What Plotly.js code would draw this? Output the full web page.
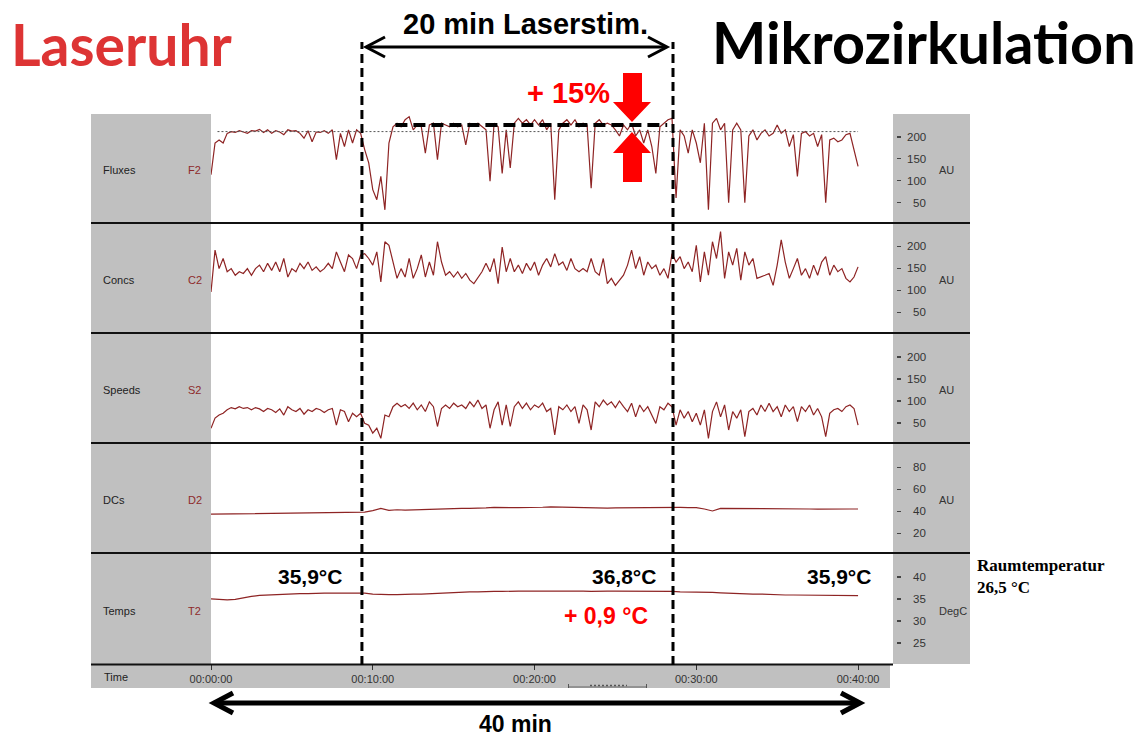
<!DOCTYPE html>
<html><head><meta charset="utf-8">
<script src="https://cdn.plot.ly/plotly-3.0.1.min.js"></script>
<style>html,body{margin:0;padding:0;background:#fff;}#chart{width:1139px;height:736px;}</style>
</head><body><div id="chart"></div>
<script>
// ---------- DATA ----------
// time in minutes; fast channels sampled every 0.25 min, slow every 0.5 min
const tFast = Array.from({length:161}, (_, i) => i * 0.25);
const tSlow = Array.from({length:81}, (_, i) => i * 0.5);

const fluxes = [
 114,186,193,186, 208,212,210,214, 211,208,214,213, 217,210,216,208,
 214,211,205,216, 213,214,208,197, 214,189,211,210, 214,208,216,148,
 208,178,216,186, 216,208,171,141, 80,57,110,34, 186,223,231,223,
 239,246,216,227, 223,163,227,231, 148,231,227,223, 231,223,227,182,
 231,227,231,223, 216,99,231,223, 117,216,129,231, 242,231,239,227,
 239,227,239,216, 231,57,216,231, 239,227,239,223, 231,227,83,231,
 239,227,231,227, 216,202,227,216, 231,202,216,186, 216,178,117,223,
 231,239,242,61, 216,202,163,216, 186,141,231,34, 231,242,216,231,
 50,216,231,216, 50,202,216,193, 208,216,202,208, 227,208,216,178,
 205,110,208,212, 202,208,178,205, 50,193,197,189, 193,205,208,171,
 133];

const concs = [
 96,191,149,172, 142,149,134,142, 138,149,134,149, 157,142,161,145,
 164,142,172,130, 149,142,161,149, 164,145,153,142, 149,161,149,187,
 164,142,180,172, 149,180,183,172, 157,187,119,210, 202,164,127,149,
 130,172,127,149, 180,130,164,134, 210,164,134,142, 130,142,127,138,
 123,115,130,142, 161,142,172,115, 198,142,172,142, 157,138,161,145,
 164,134,157,172, 153,183,157,164, 145,172,149,142, 149,142,172,142,
 134,172,115,127, 111,123,134,157, 191,149,176,134, 164,149,157,134,
 149,127,183,164, 176,149,164,142, 202,119,187,134, 210,172,233,127,
 187,157,195,123, 187,157,172,127, 130,134,138,111, 157,214,164,127,
 149,172,134,149, 127,157,134,164, 176,134,157,142, 149,127,119,130,
 153];

const speeds = [
 38,61,68,72, 80,85,82,87, 83,85,80,85, 82,76,83,80,
 74,82,68,87, 80,76,83,70, 80,76,83,80, 74,80,83,45,
 80,76,53,72, 64,72,49,45, 27,38,15,68, 64,87,95,87,
 92,83,95,80, 91,76,98,87, 42,83,91,83, 95,87,91,83,
 98,87,102,83, 91,38,80,98, 45,91,42,87, 98,83,95,80,
 91,85,95,76, 83,23,87,80, 91,76,87,49, 91,80,34,98,
 87,102,91,98, 85,100,87,76, 95,64,91,76, 87,68,49,87,
 80,95,87,45, 80,61,76,53, 72,45,80,15, 76,98,64,91,
 34,76,61,80, 19,76,83,68, 91,76,95,76, 87,64,91,76,
 87,53,87,76, 91,68,83,64, 19,72,80,83, 76,87,91,83,
 45];

const dcs = [
 37.3,37.4, 37.5,37.5, 37.5,37.6, 37.6,37.7, 37.8,37.6, 38.0,38.1, 38.3,38.0, 38.5,38.6,
 38.8,38.6, 39.0,39.2, 40.5,42.5, 40.8,41.3, 41.0,41.3, 41.5,41.8, 42.0,42.4, 42.3,42.5,
 42.6,42.6, 43.0,43.4, 43.0,43.2, 43.3,43.3, 43.5,43.6, 44.0,43.8, 43.6,43.2, 43.4,43.0,
 43.0,42.8, 43.0,43.1, 43.3,43.3, 43.4,43.4, 43.4,43.3, 43.4,43.3, 43.2,42.0, 40.2,42.6,
 42.6,42.5, 42.4,42.4, 42.3,42.3, 42.2,42.2, 42.2,42.1, 42.0,41.8, 42.0,42.0, 41.8,42.0,
 42.0];

const temps = [
 35.0,34.9, 34.8,34.9, 35.3,35.6, 35.8,35.9, 36.0,36.1, 36.1,36.2, 36.2,36.3, 36.3,36.3,
 36.3,36.3, 36.3,36.3, 36.1,36.0, 36.0,36.0, 36.1,36.1, 36.1,36.2, 36.3,36.3, 36.4,36.5,
 36.6,36.6, 36.7,36.7, 36.7,36.8, 36.8,36.8, 36.8,36.9, 36.9,36.9, 36.8,36.8, 36.8,36.7,
 36.8,36.8, 36.8,36.8, 36.8,36.7, 36.7,36.7, 36.7,36.7, 36.6,36.6, 36.6,36.5, 36.5,36.4,
 36.3,36.3, 36.2,36.1, 36.1,36.0, 36.0,35.9, 35.9,35.9, 35.8,35.8, 35.8,35.75, 35.75,35.75,
 35.75];

const channelNames = ['Fluxes','Concs','Speeds','DCs','Temps'];
const channelCodes = ['F2','C2','S2','D2','T2'];
const channelUnits = ['AU','AU','AU','AU','DegC'];
const auTicks = [50,100,150,200];
const dcTicks = [20,40,60,80];
const tempTicks = [25,30,35,40];
const timeTickVals = [0,10,20,30,40];
const timeTickText = ['00:00:00','00:10:00','00:20:00','00:30:00','00:40:00'];

const laserStart = 9.33, laserEnd = 28.56;   // minutes (dashed lines)
const refLevel = 212;       // thin dotted baseline in Fluxes
const laserLevel = 227;     // thick dashed level in Fluxes
const laserLevelStart = 11.4, laserLevelEnd = 28.2;
const refStart = 0.4, refEnd = 40;

// ---------- LAYOUT HELPERS ----------
const W = 1139, H = 736;
const X = p => p / W, Y = p => 1 - p / H;
const poly = pts => pts.map((p,i) => (i ? 'L' : 'M') + X(p[0]).toFixed(5) + ',' + Y(p[1]).toFixed(5)).join(' ') + ' Z';
const open = pts => pts.map((p,i) => (i ? 'L' : 'M') + X(p[0]).toFixed(5) + ',' + Y(p[1]).toFixed(5)).join(' ');

const panels = [
  {top:114, bottom:223, range:[4,252], ticks:auTicks, y:fluxes, t:tFast},
  {top:223, bottom:333, range:[3,252.5], ticks:auTicks, y:concs, t:tFast},
  {top:333, bottom:443, range:[4.5,254.5], ticks:auTicks, y:speeds, t:tFast},
  {top:443, bottom:553, range:[2,102], ticks:dcTicks, y:dcs, t:tSlow},
  {top:553, bottom:664, range:[20.2,45.45], ticks:tempTicks, y:temps, t:tSlow}
];

const traceColor = '#8e2424';
const sans = 'Liberation Sans, Arial, sans-serif';
const data = [];
const layout = {
  width: W, height: H,
  margin: {l:0, r:0, t:0, b:0},
  paper_bgcolor: '#ffffff', plot_bgcolor: '#ffffff',
  showlegend: false,
  xaxis: {
    domain: [X(211), X(893)], range: [0, 42.16], anchor: 'y5',
    tickvals: timeTickVals, ticktext: timeTickText,
    ticks: 'outside', ticklen: 5, tickwidth: 1, tickcolor: '#333',
    showgrid: false, zeroline: false, showline: false,
    tickfont: {family: sans, size: 11, color: '#333'}
  },
  shapes: [], annotations: []
};

panels.forEach((p, k) => {
  const ax = k === 0 ? 'yaxis' : 'yaxis' + (k + 1);
  const ref = k === 0 ? 'y' : 'y' + (k + 1);
  layout[ax] = {
    domain: [Y(p.bottom), Y(p.top)], range: p.range,
    anchor: 'free', position: X(896), side: 'right',
    ticks: 'outside', ticklen: 4, tickwidth: 1.3, tickcolor: '#444',
    tickvals: p.ticks, showticklabels: false,
    showgrid: false, zeroline: false, showline: false
  };
  data.push({x: p.t, y: p.y, xaxis: 'x', yaxis: ref, type: 'scatter', mode: 'lines',
             line: {color: traceColor, width: 1.2}, hoverinfo: 'skip'});
  p.ticks.forEach(v => layout.annotations.push({
    xref: 'paper', yref: ref, x: X(928), y: v, xanchor: 'right', yanchor: 'middle',
    text: String(v), showarrow: false, font: {family: sans, size: 11.5, color: '#333'}
  }));
  const mid = (p.top + p.bottom) / 2 + 2;
  layout.annotations.push({xref:'paper', yref:'paper', x: X(937), y: Y(mid), xanchor:'left', yanchor:'middle',
    text: channelUnits[k], showarrow:false, font:{family: sans, size: 11, color:'#333'}});
  layout.annotations.push({xref:'paper', yref:'paper', x: X(101), y: Y(mid), xanchor:'left', yanchor:'middle',
    text: channelNames[k], showarrow:false, font:{family: sans, size: 11, color:'#222'}});
  layout.annotations.push({xref:'paper', yref:'paper', x: X(186), y: Y(mid), xanchor:'left', yanchor:'middle',
    text: channelCodes[k], showarrow:false, font:{family: sans, size: 11, color:'#8e2a2a'}});
});

const gray = '#c0c0c0';
const rect = (x0,y0,x1,y1) => ({type:'rect', xref:'paper', yref:'paper', x0:X(x0), x1:X(x1), y0:Y(y1), y1:Y(y0),
  fillcolor: gray, line:{width:0}, layer:'below'});
layout.shapes.push(rect(91,114,211,688), rect(893,114,970,664), rect(211,664,890,688));

// separator lines
[223,333,443,553].forEach(yy => layout.shapes.push({type:'line', xref:'paper', yref:'paper',
  x0:X(91), x1:X(970), y0:Y(yy), y1:Y(yy), line:{color:'#111', width:2}}));
layout.shapes.push({type:'line', xref:'paper', yref:'paper', x0:X(91), x1:X(893), y0:Y(664.5), y1:Y(664.5), line:{color:'#111', width:2}});

// small scroll indicator in the time row
layout.shapes.push({type:'line', xref:'paper', yref:'paper', x0:X(568), x1:X(647), y0:Y(687), y1:Y(687), line:{color:'#666', width:1}});
layout.shapes.push({type:'line', xref:'paper', yref:'paper', x0:X(590), x1:X(627), y0:Y(685.5), y1:Y(685.5), line:{color:'#555', width:1.5, dash:'2px,2px'}});
layout.shapes.push({type:'line', xref:'paper', yref:'paper', x0:X(568.5), x1:X(568.5), y0:Y(684), y1:Y(688), line:{color:'#555', width:1}});
layout.shapes.push({type:'line', xref:'paper', yref:'paper', x0:X(646.5), x1:X(646.5), y0:Y(684), y1:Y(688), line:{color:'#555', width:1}});

// reference lines in Fluxes
layout.shapes.push({type:'line', xref:'x', yref:'y', x0:refStart, x1:refEnd, y0:refLevel, y1:refLevel,
  line:{color:'#555', width:1, dash:'2px,2px'}});
layout.shapes.push({type:'line', xref:'x', yref:'y', x0:laserLevelStart, x1:laserLevelEnd, y0:laserLevel, y1:laserLevel,
  line:{color:'#000', width:4, dash:'12px,6px'}});

// vertical dashed laser markers
[laserStart, laserEnd].forEach(t => layout.shapes.push({type:'line', xref:'x', yref:'paper',
  x0:t, x1:t, y0:Y(665), y1:Y(42), line:{color:'#000', width:3, dash:'9px,5px'}}));

// double arrows
layout.shapes.push({type:'line', xref:'paper', yref:'paper', x0:X(367), x1:X(666), y0:Y(47), y1:Y(47), line:{color:'#000', width:3}});
layout.shapes.push({type:'path', xref:'paper', yref:'paper', path: open([[385,37],[366,47],[385,57]]), line:{color:'#000', width:3}});
layout.shapes.push({type:'path', xref:'paper', yref:'paper', path: open([[648,37],[667,47],[648,57]]), line:{color:'#000', width:3}});

layout.shapes.push({type:'line', xref:'paper', yref:'paper', x0:X(215), x1:X(859), y0:Y(703), y1:Y(703), line:{color:'#000', width:5}});
layout.shapes.push({type:'path', xref:'paper', yref:'paper', path: open([[233,693],[214,703],[233,713]]), line:{color:'#000', width:5}});
layout.shapes.push({type:'path', xref:'paper', yref:'paper', path: open([[841,693],[860,703],[841,713]]), line:{color:'#000', width:5}});

// red arrows
layout.shapes.push({type:'path', xref:'paper', yref:'paper', fillcolor:'#ff0000', line:{width:0},
  path: poly([[623,73],[642,73],[642,102],[651,102],[632,122],[613,102],[623,102]])});
layout.shapes.push({type:'path', xref:'paper', yref:'paper', fillcolor:'#ff0000', line:{width:0},
  path: poly([[632,132],[651,153],[642,153],[642,182],[623,182],[623,153],[613,153]])});

// Time label
layout.annotations.push({xref:'paper', yref:'paper', x:X(102), y:Y(677), xanchor:'left', yanchor:'middle',
  text:'Time', showarrow:false, font:{family:sans, size:11, color:'#222'}});

// Titles and notes
const note = (text, x, y, size, color, family, xanchor) => ({xref:'paper', yref:'paper', x:X(x), y:Y(y),
  xanchor: xanchor || 'center', yanchor:'middle', text:text, showarrow:false, font:{family:family || sans, size:size, color:color}});
layout.annotations.push(note('<b>Laseruhr</b>', 9, 44, 57, '#dd3434', 'Lato, sans-serif', 'left'));
layout.annotations.push(note('<b>Mikrozirkulation</b>', 1138, 42, 57.5, '#000', 'Lato, sans-serif', 'right'));
layout.annotations.push(note('<b>20 min Laserstim.</b>', 525, 24, 29, '#000'));
layout.annotations.push(note('<b>+ 15%</b>', 568, 93, 29, '#ff0000'));
layout.annotations.push(note('<b>35,9°C</b>', 310, 576, 21, '#000'));
layout.annotations.push(note('<b>36,8°C</b>', 624, 576, 21, '#000'));
layout.annotations.push(note('<b>35,9°C</b>', 839, 576, 21, '#000'));
layout.annotations.push(note('<b>+ 0,9 °C</b>', 606, 616, 23, '#ff0000'));
layout.annotations.push(note('<b>40 min</b>', 515, 724, 23, '#000'));
layout.annotations.push({xref:'paper', yref:'paper', x:X(975), y:Y(576), xanchor:'left', yanchor:'middle', align:'left',
  text:'<b>Raumtemperatur</b><br><b>26,5 °C</b>', showarrow:false,
  font:{family:'Liberation Serif, Times New Roman, serif', size:17, color:'#000'}});

Plotly.newPlot('chart', data, layout, {staticPlot:true, displayModeBar:false});
</script>
</body></html>
